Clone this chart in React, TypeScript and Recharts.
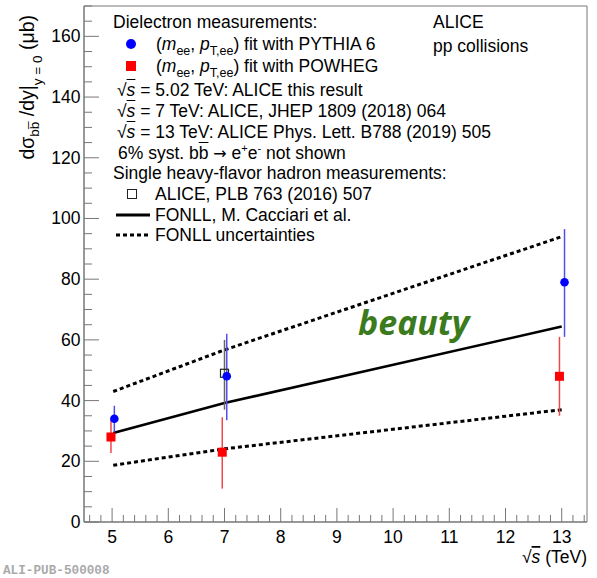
import { ComposedChart, Line, Scatter, ErrorBar, XAxis, YAxis, ReferenceArea, Legend } from "recharts";

// sqrt(s) in TeV, cross section in microbarn
const pythiaEnergy = [5.04, 7.04, 13.05];
const pythiaValue = [34, 48, 79];
const pythiaErrLow = [4.3, 14.5, 18];
const pythiaErrHigh = [4.3, 14, 17.5];

const powhegEnergy = [4.98, 6.96, 12.96];
const powhegValue = [28, 23, 48];
const powhegErrLow = [5.3, 12, 13];
const powhegErrHigh = [5.5, 11.5, 13];

const hadronEnergy = [7];
const hadronValue = [49];
const hadronErrLow = [12];
const hadronErrHigh = [11];

const fonllEnergy = [5.02, 7, 13];
const fonllCentral = [29.3, 39.2, 64.4];
const fonllUpper = [43, 56.7, 94];
const fonllLower = [18.7, 24.1, 37];

const xMajorTicks = [5, 6, 7, 8, 9, 10, 11, 12, 13];
const yMajorTicks = [0, 20, 40, 60, 80, 100, 120, 140, 160];

const X_DOMAIN: [number, number] = [4.5, 13.45];
const Y_DOMAIN: [number, number] = [0, 170];

// minor ticks: 5 divisions per unit on x, every 5 on y
const xTicks: number[] = [];
for (let i = 23; i <= 67; i++) xTicks.push(Math.round(i * 20) / 100);
const yTicks: number[] = [];
for (let v = 0; v <= 170; v += 5) yTicks.push(v);

const withErr = (xs: number[], ys: number[], lo: number[], hi: number[]) =>
  xs.map((x, i) => ({ x, y: ys[i], err: [lo[i], hi[i]] }));
const curve = (xs: number[], ys: number[]) => xs.map((x, i) => ({ x, y: ys[i] }));

const pythia = withErr(pythiaEnergy, pythiaValue, pythiaErrLow, pythiaErrHigh);
const powheg = withErr(powhegEnergy, powhegValue, powhegErrLow, powhegErrHigh);
const hadron = withErr(hadronEnergy, hadronValue, hadronErrLow, hadronErrHigh);

const FONT = "'Liberation Sans', Arial, sans-serif";
const FS = 17.5;
const AXIS = "#777";

const XTick = ({ x, y, payload }: any) => {
  const v = payload.value;
  const major = xMajorTicks.includes(Math.round(v * 100) / 100);
  return (
    <g>
      <line x1={x} x2={x} y1={y} y2={y - (major ? 14 : 7)} stroke={AXIS} />
      {major && (
        <text x={x} y={y + 15} textAnchor="middle" dominantBaseline="central" fontSize={FS} fontFamily={FONT} fill="#000">
          {v}
        </text>
      )}
    </g>
  );
};

const YTick = ({ x, y, payload }: any) => {
  const v = payload.value;
  const major = yMajorTicks.includes(v);
  return (
    <g>
      <line x1={x} x2={x + (major ? 15 : 8)} y1={y} y2={y} stroke={AXIS} />
      {major && (
        <text x={x - 3.5} y={y} textAnchor="end" dominantBaseline="central" fontSize={FS} fontFamily={FONT} fill="#000">
          {v}
        </text>
      )}
    </g>
  );
};

const BlueDot = (p: any) => <circle cx={p.cx} cy={p.cy} r={4.3} fill="#0000ff" />;
const RedSquare = (p: any) => <rect x={p.cx - 4.5} y={p.cy - 4.5} width={9} height={9} fill="#ff0000" />;
const OpenSquare = (p: any) => (
  <rect x={p.cx - 4} y={p.cy - 4} width={8} height={8} fill="none" stroke="#222" strokeWidth={1.2} />
);

// shifted with position so the row's line box keeps its height
const sub = { fontSize: 12.5, position: "relative", top: 5 } as const;
const sup = { fontSize: 11, position: "relative", top: -7 } as const;
const Sqrt = () => (
  <span>
    √<span style={{ fontStyle: "italic", textDecoration: "overline" }}>s</span>
  </span>
);
const MeePt = () => (
  <span>
    (<i>m</i>
    <span style={sub}>ee</span>, <i>p</i>
    <span style={sub}>T,ee</span>)
  </span>
);

const Row = ({ left, y, children }: any) => (
  <div style={{ position: "absolute", left, top: y - 11, height: 22, lineHeight: "22px", whiteSpace: "nowrap" }}>
    {children}
  </div>
);

const LegendBox = () => (
  <div style={{ position: "relative", fontFamily: FONT, fontSize: FS, color: "#000" }}>
    <Row left={113} y={22}>Dielectron measurements:</Row>
    <div style={{ position: "absolute", left: 126, top: 39, width: 10, height: 10, borderRadius: 5, background: "#0000ff" }} />
    <Row left={156} y={44}>
      <MeePt /> fit with PYTHIA 6
    </Row>
    <div style={{ position: "absolute", left: 126, top: 61, width: 10, height: 10, background: "#ff0000" }} />
    <Row left={156} y={66}>
      <MeePt /> fit with POWHEG
    </Row>
    <Row left={117} y={90}>
      <Sqrt /> = 5.02 TeV: ALICE this result
    </Row>
    <Row left={117} y={111}>
      <Sqrt /> = 7 TeV: ALICE, JHEP 1809 (2018) 064
    </Row>
    <Row left={117} y={132}>
      <Sqrt /> = 13 TeV: ALICE Phys. Lett. B788 (2019) 505
    </Row>
    <Row left={118} y={153}>
      6% syst. b<span style={{ textDecoration: "overline" }}>b</span>{" "}
      <span style={{ fontFamily: "'DejaVu Sans', sans-serif", fontSize: 16 }}>→</span> e<span style={sup}>+</span>e
      <span style={sup}>-</span> not shown
    </Row>
    <Row left={113} y={173}>Single heavy-flavor hadron measurements:</Row>
    <div style={{ position: "absolute", left: 127, top: 189, width: 8, height: 8, border: "1.2px solid #222" }} />
    <Row left={155} y={194}>ALICE, PLB 763 (2016) 507</Row>
    <svg style={{ position: "absolute", left: 114, top: 205 }} width={40} height={20}>
      <line x1={2} x2={36} y1={10} y2={10} stroke="#000" strokeWidth={3} />
    </svg>
    <svg style={{ position: "absolute", left: 114, top: 225 }} width={40} height={20}>
      <line x1={2} x2={36} y1={10} y2={10} stroke="#000" strokeWidth={3} strokeDasharray="4 3" />
    </svg>
    <Row left={155} y={215}>FONLL, M. Cacciari et al.</Row>
    <Row left={155} y={235}>FONLL uncertainties</Row>
  </div>
);

export default function App() {
  return (
    <div style={{ position: "absolute", left: 0, top: 0 }}>
      <ComposedChart width={597} height={578} margin={{ top: 6, right: 10, bottom: 0, left: 0 }}>
        <XAxis
          dataKey="x"
          type="number"
          domain={X_DOMAIN}
          allowDataOverflow
          ticks={xTicks}
          interval={0}
          tick={<XTick />}
          tickLine={false}
          tickSize={0}
          tickMargin={0}
          height={56}
          axisLine={{ stroke: AXIS }}
        />
        <YAxis
          dataKey="y"
          type="number"
          domain={Y_DOMAIN}
          allowDataOverflow
          ticks={yTicks}
          interval={0}
          tick={<YTick />}
          tickLine={false}
          tickSize={0}
          tickMargin={0}
          width={84}
          axisLine={{ stroke: AXIS }}
        />
        <ReferenceArea x1={X_DOMAIN[0]} x2={X_DOMAIN[1]} y1={Y_DOMAIN[0]} y2={Y_DOMAIN[1]} fill="none" stroke={AXIS} strokeOpacity={1} />
        <Line data={curve(fonllEnergy, fonllUpper)} dataKey="y" type="linear" stroke="#000" strokeWidth={3} strokeDasharray="4 3" dot={false} isAnimationActive={false} />
        <Line data={curve(fonllEnergy, fonllLower)} dataKey="y" type="linear" stroke="#000" strokeWidth={3} strokeDasharray="4 3" dot={false} isAnimationActive={false} />
        <Line data={curve(fonllEnergy, fonllCentral)} dataKey="y" type="linear" stroke="#000" strokeWidth={2.6} dot={false} isAnimationActive={false} />
        <Scatter data={hadron} dataKey="y" shape={OpenSquare} isAnimationActive={false}>
          <ErrorBar dataKey="err" direction="y" width={0} stroke="#666" strokeWidth={1.5} isAnimationActive={false} />
        </Scatter>
        <Scatter data={powheg} dataKey="y" shape={RedSquare} isAnimationActive={false}>
          <ErrorBar dataKey="err" direction="y" width={0} stroke="#f04848" strokeWidth={1.5} isAnimationActive={false} />
        </Scatter>
        <Scatter data={pythia} dataKey="y" shape={BlueDot} isAnimationActive={false}>
          <ErrorBar dataKey="err" direction="y" width={0} stroke="#5050ea" strokeWidth={1.5} isAnimationActive={false} />
        </Scatter>
        <Legend
          layout="horizontal"
          verticalAlign="middle"
          align="center"
          wrapperStyle={{ left: 0, top: 0, width: 597, height: 1 }}
          content={() => <LegendBox />}
        />
        <text x={433} y={22} dominantBaseline="central" fontSize={FS} fontFamily={FONT} fill="#000">ALICE</text>
        <text x={433} y={46} dominantBaseline="central" fontSize={FS} fontFamily={FONT} fill="#000">pp collisions</text>
        <text x={358} y={322} dominantBaseline="central" fontSize={34} fontWeight="bold" fontStyle="italic" fontFamily="'Noto Sans', 'Open Sans', sans-serif" fill="#3b7b1d">
          beauty
        </text>
        <text x={587} y={557} textAnchor="end" dominantBaseline="central" fontSize={FS} fontFamily={FONT} fill="#000">
          √<tspan fontStyle="italic" textDecoration="overline">s</tspan> (TeV)
        </text>
        <text transform="translate(34,15) rotate(-90)" textAnchor="end" fontSize={19.5} fontFamily={FONT} fill="#000">
          dσ<tspan fontSize={13.5} dy={5}>bb̅</tspan>
          <tspan dy={-5}> /dy|</tspan>
          <tspan fontSize={13.5} dy={8}>y = 0</tspan>
          <tspan dy={-8}> (μb)</tspan>
        </text>
        <text x={3} y={570} dominantBaseline="central" fontSize={12.7} fontWeight="bold" fontFamily="'Liberation Mono', monospace" fill="#aaa">
          ALI-PUB-500008
        </text>
      </ComposedChart>
    </div>
  );
}
